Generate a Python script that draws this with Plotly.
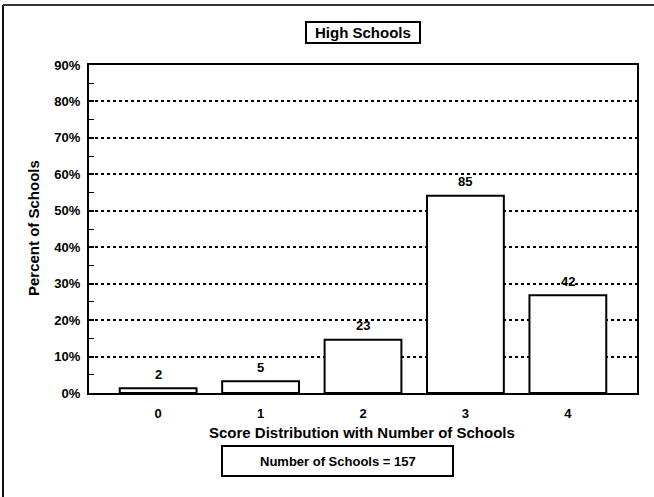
import plotly.graph_objects as go

# ---- data ----
scores = ["0", "1", "2", "3", "4"]
counts = [2, 5, 23, 85, 42]
percents = [1.3, 3.2, 14.6, 54.1, 26.8]
total_schools = 157
chart_title = "High Schools"
x_title = "Score Distribution with Number of Schools"
y_title = "Percent of Schools"
y_ticks = [0, 10, 20, 30, 40, 50, 60, 70, 80, 90]
y_ticklabels = [f"{v}%" for v in y_ticks]

# ---- geometry (pixels) ----
W, H = 654, 497
L, R, T, B = 89, 637, 65, 393
FONT = "Liberation Sans, Arial, Helvetica, sans-serif"


def px(x):
    return (x - L) / (R - L)


def py(y):
    return (B - y) / (B - T)


fig = go.Figure()
fig.add_trace(go.Bar(
    x=scores, y=percents, width=0.75,
    marker=dict(color="white", line=dict(color="black", width=2)),
    hoverinfo="skip", showlegend=False,
))

# bar count labels
for s, p, c in zip(scores, percents, counts):
    fig.add_annotation(x=s, y=p, text=str(c), showarrow=False, yshift=14,
                       xanchor="center", yanchor="middle",
                       font=dict(family=FONT, size=13, color="black", weight="bold"))

shapes = [
    # outer frame (left + top)
    dict(type="line", xref="paper", yref="paper", x0=px(3), x1=px(3), y0=py(5), y1=py(500),
         line=dict(color="#111", width=2)),
    dict(type="line", xref="paper", yref="paper", x0=px(3), x1=px(660), y0=py(5), y1=py(5),
         line=dict(color="#333", width=2)),
    # title box
    dict(type="rect", xref="paper", yref="paper", x0=px(306), x1=px(420), y0=py(43), y1=py(22),
         line=dict(color="black", width=2), fillcolor="white", layer="below"),
    # number of schools box
    dict(type="rect", xref="paper", yref="paper", x0=px(222), x1=px(453), y0=py(476), y1=py(446),
         line=dict(color="black", width=2), fillcolor="white", layer="below"),
]
fig.update_layout(shapes=shapes)

def label(x, y, text, size, angle=0):
    fig.add_annotation(xref="paper", yref="paper", x=px(x), y=py(y), text=text,
                       showarrow=False, xanchor="center", yanchor="middle", textangle=angle,
                       font=dict(family=FONT, size=size, color="black", weight="bold"))

label(363, 32.5, chart_title, 15)
label(362, 432, x_title, 15)
label(337.5, 461, f"Number of Schools = {total_schools}", 13)
label(33, 228, y_title, 15, angle=-90)

fig.update_layout(
    width=W, height=H,
    margin=dict(l=L, r=W - R, t=T, b=H - B),
    paper_bgcolor="white", plot_bgcolor="rgba(0,0,0,0)",
    font=dict(family=FONT, color="black"),
    bargap=0.25,
)
fig.update_xaxes(
    type="category", range=[-0.675, 4.675],
    showline=True, linecolor="black", linewidth=2, mirror=True,
    showgrid=False, ticks="", ticklabelstandoff=7,
    tickfont=dict(family=FONT, size=13, color="black", weight="bold"),
)
fig.update_yaxes(
    range=[0, 90], tickvals=y_ticks, ticktext=y_ticklabels,
    showline=True, linecolor="black", linewidth=2, mirror=True,
    showgrid=True, gridcolor="black", gridwidth=2, griddash="3px,3px",
    ticks="inside", ticklen=5, tickwidth=2, tickcolor="black",
    minor=dict(dtick=5, ticks="inside", ticklen=5, tickwidth=1, tickcolor="black", showgrid=False),
    ticklabelstandoff=4, zeroline=False,
    tickfont=dict(family=FONT, size=13, color="black", weight="bold"),
)

fig.write_html("out.html", config={"displayModeBar": False},
               post_script="document.body.style.margin='0';")
